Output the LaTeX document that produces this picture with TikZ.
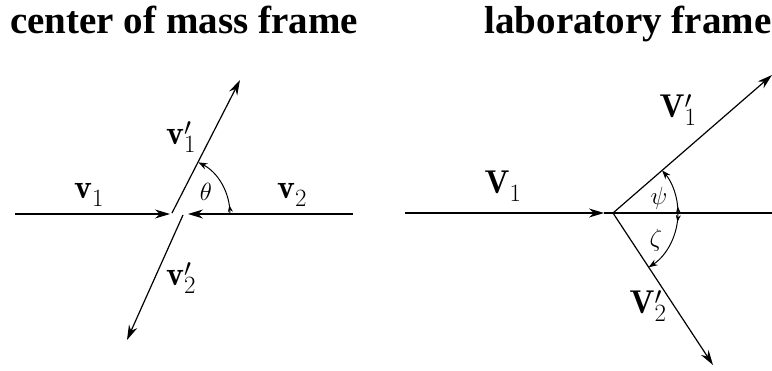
\documentclass[tikz,border=0pt]{standalone}
\usepackage{fontspec}
\newfontfamily\titlefont{Liberation Serif}
\usetikzlibrary{arrows.meta,decorations.markings}
\begin{document}
\begin{tikzpicture}[x=1pt,y=-1pt,
  vec/.style={line width=1.2pt,-{Stealth[length=15pt,width=9pt]}},
  plain/.style={line width=1.2pt},
  anglearc/.style={line width=1pt,-{Stealth[length=9pt,width=6.5pt]},
    postaction={decorate},
    decoration={markings,mark=at position 0.14 with {\arrow{Stealth[length=7pt,width=5pt]}}}},
  title/.style={font=\titlefont\bfseries\fontsize{39}{42}\selectfont,anchor=base,inner sep=0pt},
  lab/.style={font=\fontsize{34}{36}\selectfont,inner sep=0pt},
  labR/.style={font=\fontsize{33}{35}\selectfont,inner sep=0pt},
  greek/.style={font=\fontsize{37}{39}\selectfont,inner sep=0pt}]
\useasboundingbox (0,0) rectangle (772,370);
% titles
\node[title] (t1) at (184,33) {center of mass frame};
\node[title] (t2) at (628,33) {laboratory frame};
% ---------- centre of mass frame ----------
\coordinate (L0) at (15,214);
\coordinate (L1) at (170,214);
\coordinate (R0) at (353,214);
\coordinate (R1) at (188,214);
\coordinate (U0) at (172,213);
\coordinate (U1) at (240,80);
\coordinate (D0) at (183,215);
\coordinate (D1) at (127,340);
\coordinate (C) at (172,214);
\draw[vec] (L0) -- (L1);
\draw[vec] (R0) -- (R1);
\draw[vec] (U0) -- (U1);
\draw[vec] (D0) -- (D1);
\draw[anglearc] ([xshift=58pt]C) arc[start angle=0,end angle=-63,radius=58];
\node[lab] (v1) at (89,195) {$\mathbf{v}_1$};
\node[lab] (v2) at (292,195) {$\mathbf{v}_2$};
\node[lab] (v1p) at (181,137) {$\mathbf{v}_1'$};
\node[lab] (v2p) at (181,278) {$\mathbf{v}_2'$};
\node[greek] (th) at (206,192) {$\theta$};
% ---------- laboratory frame ----------
\coordinate (A0) at (405,213);
\coordinate (A1) at (604,213);
\coordinate (O) at (613,213);
\coordinate (E) at (772,213);
\coordinate (B1) at (772,75);
\coordinate (B2) at (713,365);
\draw[vec] (A0) -- (A1);
\draw[plain] (A1) -- (O);
\draw[plain] (O) -- (E);
\draw[vec] (O) -- (B1);
\draw[vec] (O) -- (B2);
\draw[anglearc] ([xshift=65pt]O) arc[start angle=0,end angle=-41,radius=65];
\draw[anglearc] ([xshift=65pt]O) arc[start angle=0,end angle=56.7,radius=65];
\node[labR] (V1) at (503,186) {$\mathbf{V}_1$};
\node[labR] (V1p) at (678,110) {$\mathbf{V}_1'$};
\node[labR] (V2p) at (648,306) {$\mathbf{V}_2'$};
\node[greek] (psi) at (659,198) {$\psi$};
\node[greek] (zeta) at (656,240) {$\zeta$};
\end{tikzpicture}
\end{document}
